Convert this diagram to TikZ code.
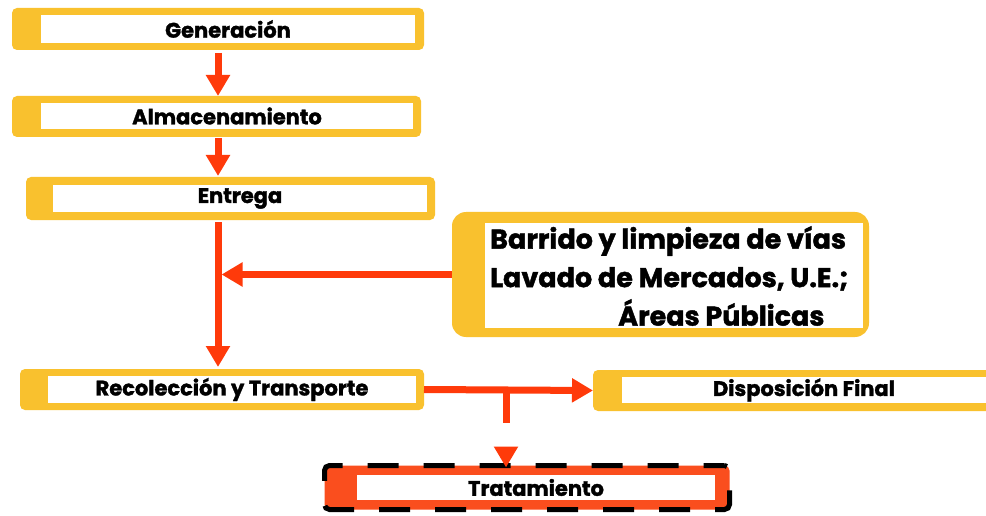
\documentclass[tikz,border=0pt]{standalone}
\usepackage{fontspec}
\setmainfont{Poppins}[BoldFeatures={FakeBold=1.6}]
\usetikzlibrary{arrows.meta}
\definecolor{yboxc}{RGB}{249,193,46}
\definecolor{arrc}{RGB}{255,58,10}
\definecolor{trac}{RGB}{250,78,30}
\begin{document}
\begin{tikzpicture}[x=1pt,y=-1pt,
  outerbox/.style={fill=yboxc, rounded corners=5pt, inner sep=0pt, outer sep=0pt},
  innerbox/.style={fill=white, inner sep=0pt, outer sep=0pt, font=\bfseries\fontsize{21}{21}\selectfont},
  trabox/.style={fill=trac, draw=black, line width=5pt, dash pattern=on 31pt off 25pt, dash phase=10pt, rounded corners=5pt, inner sep=0pt, outer sep=0pt},
  arr/.style={draw=arrc, line width=7pt, -{Triangle[length=21pt,width=23pt]}}]
\useasboundingbox (0,0) rectangle (986,516);
\fill[white] (0,0) rectangle (986,516);
\begin{scope}
\clip (0,0) rectangle (986,516);
% boxes
\node[outerbox, minimum width=412pt, minimum height=42pt] (gen) at (218,29) {};
\node[innerbox, minimum width=374pt, minimum height=28pt] (genT) at (228,29) {Generación};
\node[outerbox, minimum width=409pt, minimum height=41pt] (alm) at (216.5,116.5) {};
\node[innerbox, minimum width=372pt, minimum height=26pt] (almT) at (227,116) {Almacenamiento};
\node[outerbox, minimum width=409pt, minimum height=43pt] (ent) at (230.5,198.5) {};
\node[innerbox, minimum width=374pt, minimum height=27pt] (entT) at (240,198.5) {Entrega};
\node[outerbox, minimum width=417pt, minimum height=125pt, rounded corners=14pt] (bar) at (660.5,274.5) {};
\node[fill=white, inner sep=0pt, minimum width=378pt, minimum height=105pt] (barI) at (674,275.5) {};
\node[anchor=west, align=left, inner sep=0pt, font=\bfseries\fontsize{27}{38.5}\selectfont] (barT) at (490,276) {Barrido y limpieza de vías\\Lavado de Mercados, U.E.;\\\hspace*{128pt}Áreas Públicas};
\node[outerbox, minimum width=404pt, minimum height=41pt] (rec) at (222,389.5) {};
\node[innerbox, minimum width=368pt, minimum height=27pt] (recT) at (232,389.5) {Recolección y Transporte};
\node[outerbox, minimum width=401pt, minimum height=41pt] (dis) at (793.5,390.5) {};
\node[innerbox, minimum width=364pt, minimum height=26pt] (disT) at (804,390) {Disposición Final};
\node[trabox, minimum width=405pt, minimum height=44pt] (tra) at (527,487.5) {};
\node[innerbox, minimum width=358pt, minimum height=25pt] (traT) at (536,487.5) {Tratamiento};
\end{scope}
% connectors
\coordinate (col) at (218,0);
\coordinate (jt) at (506,390);
\draw[arr, shorten <=3pt] (col |- gen.south) -- (col |- alm.north);
\draw[arr, shorten <=1pt, shorten >=1pt] (col |- alm.south) -- (col |- ent.north);
\draw[arr, shorten <=2pt, shorten >=2pt] (col |- ent.south) -- (col |- rec.north);
\draw[arr, shorten >=0pt] (bar.west) -- ([xshift=3.5pt]col |- bar.west);
\draw[arr] (rec.east) -- (dis.west);
\draw[arr, dash pattern=on 33pt off 200pt, shorten >=-2pt] (jt) -- (jt |- tra.north);
\end{tikzpicture}
\end{document}
